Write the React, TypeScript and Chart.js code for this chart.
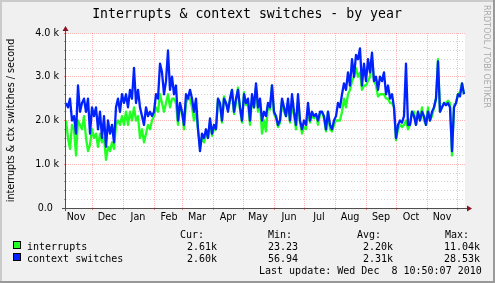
import React, { useEffect, useRef } from 'react';
import { Chart, registerables } from 'chart.js';

Chart.register(...registerables);

const TITLE = 'Interrupts & context switches - by year';
const Y_TITLE = 'interrupts & ctx switches / second';
const WATERMARK = 'RRDTOOL / TOBI OETIKER';
const LAST_UPDATE = 'Last update: Wed Dec  8 10:50:07 2010';

// one sample every 2 days, day 0 = 5 Nov 2009
const DAY_STEP = 2;

const interrupts = [
  2000, 1600, 1350, 1900, 1800, 1200, 2000, 1900, 1800, 2100,
  1600, 1300, 1450, 1800, 1600, 1700, 1400, 1700, 1500, 1600,
  1100, 1400, 1300, 1500, 1350, 1900, 2000, 1900, 2100, 1900,
  2200, 1900, 2200, 2000, 2300, 2000, 2100, 1600, 1800, 1500,
  1700, 1900, 1800, 2000, 2100, 2300, 2200, 2600, 2400, 2200,
  2400, 2600, 2300, 2500, 2500, 2400, 1900, 2300, 2200, 1800,
  2400, 2500, 2500, 2300, 2000, 2200, 1800, 1400, 1600, 1500,
  1700, 1600, 1950, 1650, 1800, 1800, 2500, 2350, 1950, 2550,
  2400, 2300, 2450, 2700, 2150, 2400, 2750, 2250, 1950, 2650,
  2350, 2400, 1900, 2500, 2300, 2750, 2200, 2400, 1700, 2000,
  1750, 2350, 2250, 2800, 2150, 2050, 1850, 1950, 2450, 2200,
  2100, 2400, 1950, 2400, 2100, 1800, 2450, 1950, 1700, 1850,
  1800, 2250, 1950, 2100, 2050, 2150, 1900, 2150, 2200, 2050,
  1750, 2200, 1800, 1750, 1900, 2000, 2000, 2000, 2200, 2500,
  2300, 2600, 2700, 2900, 3000, 3200, 3000, 3100, 2700, 2800,
  2800, 2900, 3000, 3400, 2900, 2800, 2550, 2600, 2600, 2600,
  2500, 2500, 2400, 2400, 2300, 1550, 1800, 1900, 1850, 1900,
  2000, 1800, 1900, 2200, 2200, 1900, 2200, 2000, 2300, 2000,
  1900, 2300, 2000, 2100, 2300, 2500, 3400, 2200, 2300, 2400,
  2400, 2450, 2400, 1200, 2350, 2400, 2600, 2650, 2850, 2600,
];

const contextSwitches = [
  2400, 2300, 2500, 2000, 2100, 1700, 2800, 2200, 2400, 2500,
  2200, 2500, 1700, 2300, 2100, 2300, 1800, 2200, 1600, 2100,
  1400, 2000, 1700, 1900, 1500, 2300, 2500, 2200, 2600, 2400,
  2600, 2300, 2700, 2500, 3200, 2400, 2700, 2300, 2100, 1900,
  2300, 2100, 2200, 2100, 2200, 2600, 2500, 3300, 3100, 2600,
  2900, 3600, 2700, 3000, 2600, 2800, 2000, 2400, 2200, 1900,
  2600, 2500, 2700, 2500, 2200, 2500, 1800, 1300, 1700, 1600,
  1800, 1600, 2050, 1700, 1900, 1800, 2500, 2400, 2000, 2500,
  2400, 2200, 2500, 2700, 2200, 2500, 2700, 2300, 2000, 2600,
  2400, 2500, 2000, 2600, 2300, 2850, 2300, 2500, 2000, 2200,
  2100, 2400, 2300, 2800, 2200, 2100, 1900, 2000, 2500, 2300,
  2100, 2500, 2000, 2600, 2200, 1900, 2600, 2000, 1800, 2000,
  1900, 2400, 2000, 2200, 2100, 2150, 2000, 2200, 2200, 2100,
  1800, 2200, 1900, 1800, 2000, 2100, 2400, 2300, 2600, 2850,
  2700, 3100, 2800, 3400, 3000, 3500, 3400, 3650, 2800, 3300,
  2900, 3400, 3100, 3550, 2900, 3000, 2700, 3000, 2900, 3100,
  2600, 2800, 2500, 2600, 2300, 1600, 1900, 2000, 1950, 2100,
  3300, 1900, 1900, 2200, 2100, 1900, 2200, 2000, 2200, 2100,
  1900, 2200, 2000, 2200, 2300, 2500, 3350, 2200, 2300, 2400,
  2350, 2400, 2300, 1300, 2300, 2400, 2600, 2550, 2850, 2600,
];

// x axis (days since 5 Nov 2009)
const monthStartDays = [26, 57, 88, 116, 147, 177, 208, 238, 269, 300, 330, 361, 391];
const monthLabelDays = [10, 41, 72, 103, 131, 162, 192, 223, 253, 284, 315, 345, 376];
const monthLabels = ['Nov', 'Dec', 'Jan', 'Feb', 'Mar', 'Apr', 'May', 'Jun', 'Jul', 'Aug', 'Sep', 'Oct', 'Nov'];

// y axis
const yTickValues = [0, 200, 400, 600, 800, 1000, 1200, 1400, 1600, 1800, 2000, 2200, 2400, 2600, 2800, 3000, 3200, 3400, 3600, 3800, 4000];
const yMajorValues = [0, 1000, 2000, 3000, 4000];
const yMajorLabels = ['0.0  ', '1.0 k', '2.0 k', '3.0 k', '4.0 k'];

// legend
const seriesNames = ['interrupts', 'context switches'];
const seriesColors = ['#22ff22', '#0022ff'];
const statHeaders = ['Cur:', 'Min:', 'Avg:', 'Max:'];
const interruptStats = ['2.61k', '23.23', '2.20k', '11.04k'];
const contextStats = ['2.60k', '56.94', '2.31k', '28.53k'];

const MAJOR_GRID = 'rgba(255,0,0,0.28)';
const MINOR_GRID = 'rgba(128,128,128,0.36)';
const SANS = '"DejaVu Sans", sans-serif';
const MONO = '"DejaVu Sans Mono", monospace';

const decorPlugin = {
  id: 'rrdDecor',
  beforeDraw(chart: any) {
    const { ctx, chartArea: a, width, height } = chart;
    ctx.save();
    ctx.fillStyle = '#F0F0F0';
    ctx.fillRect(0, 0, width, height);
    ctx.fillStyle = '#FFFFFF';
    ctx.fillRect(a.left - 1, a.top, a.right - a.left + 1, a.bottom - a.top);
    ctx.fillStyle = '#CBCBCB';
    ctx.fillRect(0, 0, width, 2);
    ctx.fillRect(0, 0, 2, height);
    ctx.fillStyle = '#999999';
    ctx.fillRect(0, height - 2, width, 2);
    ctx.fillRect(width - 2, 0, 2, height);
    ctx.restore();
  },
  afterDraw(chart: any) {
    const { ctx, chartArea: a } = chart;
    ctx.save();
    // axes
    const ax = a.left - 0.5;
    const ay = a.bottom + 0.5;
    ctx.strokeStyle = '#505050';
    ctx.lineWidth = 1;
    ctx.setLineDash([]);
    ctx.beginPath();
    ctx.moveTo(ax, a.top - 3);
    ctx.lineTo(ax, a.bottom + 3);
    ctx.moveTo(a.left - 4, ay);
    ctx.lineTo(a.right + 2, ay);
    ctx.stroke();
    // arrows
    ctx.fillStyle = '#8e1020';
    ctx.beginPath();
    ctx.moveTo(ax, a.top - 7);
    ctx.lineTo(ax - 3, a.top - 2);
    ctx.lineTo(ax + 3, a.top - 2);
    ctx.closePath();
    ctx.fill();
    ctx.beginPath();
    ctx.moveTo(a.right + 7, ay);
    ctx.lineTo(a.right + 2, ay - 3);
    ctx.lineTo(a.right + 2, ay + 3);
    ctx.closePath();
    ctx.fill();

    // title
    ctx.fillStyle = '#000';
    ctx.font = '13.2px ' + MONO;
    ctx.textAlign = 'center';
    ctx.textBaseline = 'alphabetic';
    ctx.fillText(TITLE, 247, 17.5);

    // y axis title
    ctx.save();
    ctx.font = '9.6px ' + SANS;
    ctx.translate(13.5, 120.5);
    ctx.rotate(-Math.PI / 2);
    ctx.textAlign = 'center';
    ctx.fillText(Y_TITLE, 0, 0);
    ctx.restore();

    // watermark
    ctx.save();
    ctx.font = '8px ' + SANS;
    ctx.fillStyle = '#a8a8a8';
    ctx.translate(486, 5);
    ctx.rotate(Math.PI / 2);
    ctx.textAlign = 'left';
    ctx.textBaseline = 'middle';
    ctx.fillText(WATERMARK, 0, 0);
    ctx.restore();

    // legend
    ctx.font = '10px ' + MONO;
    ctx.textBaseline = 'alphabetic';
    ctx.textAlign = 'left';
    const headerX = [180, 268, 357, 445];
    statHeaders.forEach((h, i) => ctx.fillText(h, headerX[i], 237.5));
    const valueRight = [217, 298, 393, 480];
    const rows = [interruptStats, contextStats];
    const rowY = [249.5, 261.5];
    seriesNames.forEach((name, r) => {
      ctx.fillStyle = seriesColors[r];
      ctx.fillRect(13.5, rowY[r] - 8, 7, 7);
      ctx.strokeStyle = '#000';
      ctx.lineWidth = 1;
      ctx.strokeRect(13.5, rowY[r] - 8, 7, 7);
      ctx.fillStyle = '#000';
      ctx.textAlign = 'left';
      ctx.fillText(name, 27, rowY[r]);
      ctx.textAlign = 'right';
      rows[r].forEach((v, i) => ctx.fillText(v, valueRight[i], rowY[r]));
    });
    ctx.textAlign = 'left';
    ctx.fillText(LAST_UPDATE, 259, 273.5);
    ctx.restore();
  },
};

export default function App() {
  const canvasRef = useRef<HTMLCanvasElement | null>(null);

  useEffect(() => {
    const canvas = canvasRef.current;
    if (!canvas) return;
    const toPoints = (arr: number[]) => arr.map((v, i) => ({ x: i * DAY_STEP, y: v }));
    const isMajorY = (v: number) => yMajorValues.includes(Math.round(v));
    const xTicks = [...monthStartDays, ...monthLabelDays].sort((p, q) => p - q);

    const chart = new Chart(canvas, {
      type: 'line',
      data: {
        datasets: [
          {
            label: seriesNames[1],
            data: toPoints(contextSwitches),
            borderColor: seriesColors[1],
            backgroundColor: seriesColors[1],
            borderWidth: 2.3,
            pointRadius: 0,
            tension: 0,
            borderJoinStyle: 'round',
            fill: false,
            order: 0,
          },
          {
            label: seriesNames[0],
            data: toPoints(interrupts),
            borderColor: seriesColors[0],
            backgroundColor: seriesColors[0],
            borderWidth: 2.3,
            pointRadius: 0,
            tension: 0,
            borderJoinStyle: 'round',
            fill: false,
            order: 1,
          },
        ],
      },
      options: {
        responsive: false,
        maintainAspectRatio: false,
        animation: false,
        devicePixelRatio: 1,
        events: [],
        layout: { padding: { left: 0, top: 33, right: 30, bottom: 55 } },
        plugins: {
          legend: { display: false },
          title: { display: false },
          tooltip: { enabled: false },
        },
        scales: {
          x: {
            type: 'linear',
            min: 0,
            max: 399,
            afterBuildTicks: (scale: any) => {
              scale.ticks = xTicks.map((v) => ({ value: v }));
            },
            afterFit: (scale: any) => {
              scale.height = 20;
            },
            grid: {
              color: (c: any) => (monthStartDays.includes(c.tick?.value) ? MAJOR_GRID : 'rgba(0,0,0,0)'),
              drawTicks: true,
              tickLength: 2,
              tickColor: (c: any) => (monthStartDays.includes(c.tick?.value) ? 'rgba(255,0,0,0.5)' : 'rgba(0,0,0,0)'),
            },
            border: { display: false, dash: [1, 1] },
            ticks: {
              autoSkip: false,
              maxRotation: 0,
              padding: 2,
              color: '#000',
              font: { family: SANS, size: 9.6 },
              callback: (v: any) => {
                const idx = monthLabelDays.indexOf(Number(v));
                return idx >= 0 ? monthLabels[idx] : '';
              },
            },
          },
          y: {
            type: 'linear',
            min: 0,
            max: 4000,
            afterBuildTicks: (scale: any) => {
              scale.ticks = yTickValues.map((v) => ({ value: v }));
            },
            afterFit: (scale: any) => {
              scale.width = 66;
            },
            grid: {
              color: (c: any) => (isMajorY(c.tick?.value ?? -1) ? MAJOR_GRID : MINOR_GRID),
              drawTicks: true,
              tickLength: 2,
              tickColor: (c: any) => (isMajorY(c.tick?.value ?? -1) ? 'rgba(255,0,0,0.5)' : 'rgba(80,80,80,0.5)'),
            },
            border: {
              display: false,
              dash: (c: any) => (isMajorY(c.tick?.value ?? -1) ? [1, 1] : [1, 2]),
            },
            ticks: {
              autoSkip: false,
              padding: 5,
              color: '#000',
              font: { family: SANS, size: 9.6 },
              callback: (v: any) => {
                const idx = yMajorValues.indexOf(Math.round(Number(v)));
                return idx >= 0 ? yMajorLabels[idx] : '';
              },
            },
          },
        },
      },
      plugins: [decorPlugin],
    } as any);

    return () => chart.destroy();
  }, []);

  return (
    <div style={{ position: 'absolute', left: 0, top: 0, width: 495, height: 283 }}>
      <canvas ref={canvasRef} width={495} height={283} style={{ display: 'block', width: 495, height: 283 }} />
    </div>
  );
}
